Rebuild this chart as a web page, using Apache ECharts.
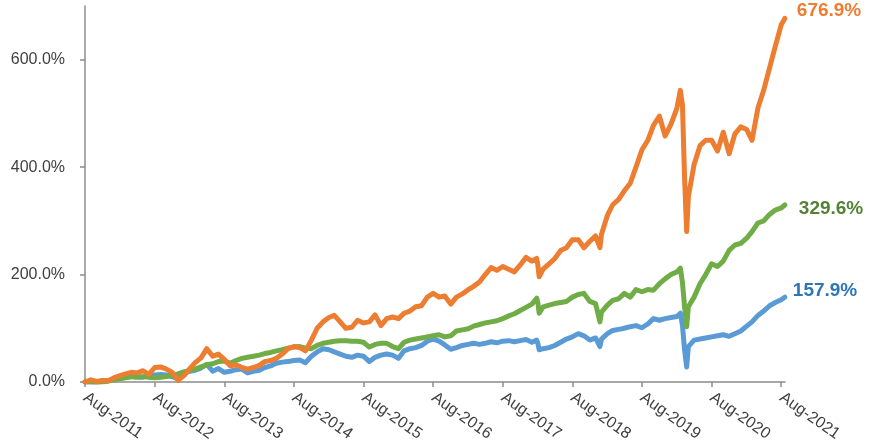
<!DOCTYPE html>
<html>
<head>
<meta charset="utf-8">
<script src="https://cdn.jsdelivr.net/npm/echarts@6/dist/echarts.min.js"></script>
<style>html,body{margin:0;padding:0;background:#fff;}#c{width:875px;height:447px;}</style>
</head>
<body>
<div id="c"></div>
<script>
var dates = [
 '2011-08-01','2011-09-01','2011-10-01','2011-11-01','2011-12-01','2012-01-01','2012-02-01','2012-03-01','2012-04-01','2012-05-01','2012-06-01','2012-07-01',
 '2012-08-01','2012-09-01','2012-10-01','2012-11-01','2012-12-01','2013-01-01','2013-02-01','2013-03-01','2013-04-01','2013-05-01','2013-06-01','2013-07-01',
 '2013-08-01','2013-09-01','2013-10-01','2013-11-01','2013-12-01','2014-01-01','2014-02-01','2014-03-01','2014-04-01','2014-05-01','2014-06-01','2014-07-01',
 '2014-08-01','2014-09-01','2014-10-01','2014-11-01','2014-12-01','2015-01-01','2015-02-01','2015-03-01','2015-04-01','2015-05-01','2015-06-01','2015-07-01',
 '2015-08-01','2015-09-01','2015-10-01','2015-11-01','2015-12-01','2016-01-01','2016-02-01','2016-03-01','2016-04-01','2016-05-01','2016-06-01','2016-07-01',
 '2016-08-01','2016-09-01','2016-10-01','2016-11-01','2016-12-01','2017-01-01','2017-02-01','2017-03-01','2017-04-01','2017-05-01','2017-06-01','2017-07-01',
 '2017-08-01','2017-09-01','2017-10-01','2017-11-01','2017-12-01','2018-01-01','2018-01-26','2018-02-01','2018-02-08','2018-03-01','2018-04-01','2018-05-01','2018-06-01','2018-07-01',
 '2018-08-01','2018-09-01','2018-10-01','2018-11-01','2018-12-01','2018-12-24','2019-01-01','2019-02-01','2019-03-01','2019-04-01','2019-05-01','2019-06-01','2019-07-01',
 '2019-08-01','2019-09-01','2019-10-01','2019-11-01','2019-12-01','2020-01-01','2020-02-01','2020-02-19','2020-03-01','2020-03-12','2020-03-23','2020-04-01','2020-05-01','2020-06-01','2020-07-01',
 '2020-08-01','2020-09-01','2020-10-01','2020-11-01','2020-12-01','2021-01-01','2021-02-01','2021-03-01','2021-04-01','2021-05-01','2021-06-01','2021-07-01','2021-08-01','2021-08-20'
];
var orangeValues = [
 0,4,1,3,2,8,12,15,18,17,21,14,
 27,28,24,18,3,12,25,36,45,62,48,52,
 42,30,32,27,24,27,31,38,40,44,52,62,
 66,64,58,78,100,112,120,124,112,100,102,115,
 110,112,125,105,118,121,118,128,132,140,142,158,
 165,158,160,145,158,164,172,178,186,200,213,208,
 215,210,205,218,232,225,230,218,196,210,220,230,245,250,
 265,265,250,262,272,250,275,310,330,340,356,370,400,
 432,450,478,495,458,480,510,543,515,380,280,345,405,440,450,
 450,430,465,425,462,475,470,450,510,543,585,625,665,676.9
];
var greenValues = [
 0,0,-1,0,2,4,6,8,10,10,10,9,
 8,9,10,12,15,19,21,24,28,32,34,38,
 39,35,40,44,46,48,50,53,55,58,60,63,
 65,66,63,62,68,72,74,76,77,77,76,76,
 74,65,70,72,72,66,62,74,78,80,82,84,
 86,88,84,86,95,97,99,104,107,110,112,114,
 118,123,127,133,139,145,156,148,128,140,143,146,148,150,
 158,163,165,150,146,112,130,143,152,155,165,158,172,
 168,172,171,183,192,200,205,212,185,140,103,140,158,183,200,
 220,215,225,245,255,258,268,280,296,300,312,320,324,329.6
];
var blueValues = [
 0,0,0,2,3,5,8,9,10,9,9,12,
 13,14,13,10,6,16,20,22,26,33,20,25,
 18,20,23,24,17,20,22,27,30,35,37,38,
 40,41,36,48,56,62,60,56,52,48,46,50,
 48,38,46,50,52,50,44,58,62,64,68,76,
 80,76,69,61,64,68,70,72,70,72,75,73,
 76,77,75,77,79,74,78,72,60,62,64,68,74,80,
 84,90,86,78,82,66,80,90,96,98,100,103,105,
 101,108,118,115,118,120,122,128,105,60,28,66,78,80,82,
 84,86,88,85,90,95,104,112,124,132,142,148,153,157.9
];
var yTicks = [0, 200, 400, 600];
var xTickYears = [2011,2012,2013,2014,2015,2016,2017,2018,2019,2020,2021];

function ts(s){ var p = s.split('-'); return Date.UTC(+p[0], +p[1]-1, +p[2]); }
var xTicks = xTickYears.map(function(y){ return Date.UTC(y, 7, 1); });
function pairs(vals){ return dates.map(function(d,i){ return [ts(d), vals[i]]; }); }

var chart = echarts.init(document.getElementById('c'), null, {renderer:'canvas'});
var axisGray = '#8c8c8c';
var font = 'Arial, "Liberation Sans", sans-serif';
function mk(name, vals, color, labelColor, offset){
  return {
    name: name, type: 'line', data: pairs(vals), showSymbol: false, smooth: false,
    lineStyle: {width: 5, color: color, join: 'round', cap: 'round'}, itemStyle: {color: color},
    emphasis: {disabled: true},
    endLabel: {
      show: true, color: labelColor, fontWeight: 'bold', fontSize: 19, fontFamily: font,
      offset: offset,
      formatter: function(p){ return p.value[1].toFixed(1) + '%'; }
    }
  };
}
chart.setOption({
  animation: false,
  backgroundColor: '#fff',
  grid: {left: 85, right: 90, top: 6, bottom: 65, containLabel: false},
  xAxis: {
    type: 'value',
    min: ts('2011-08-01'),
    max: ts('2021-08-21'),
    axisLine: {show: true, lineStyle: {color: axisGray, width: 1.5}},
    axisTick: {show: true, length: 5, lineStyle: {color: axisGray, width: 1.5}, customValues: xTicks},
    axisLabel: {
      customValues: xTicks, rotate: -35, margin: 14, fontSize: 16, color: '#404040', fontFamily: font,
      formatter: function(v){ return 'Aug-' + new Date(v).getUTCFullYear(); }
    },
    splitLine: {show: false}
  },
  yAxis: {
    type: 'value', min: 0, max: 700,
    axisLine: {show: true, lineStyle: {color: axisGray, width: 1.5}},
    axisTick: {show: true, length: 5, lineStyle: {color: axisGray, width: 1.5}, customValues: yTicks},
    axisLabel: {customValues: yTicks, margin: 20, fontSize: 16, color: '#404040', fontFamily: font,
      formatter: function(v){ return v.toFixed(1) + '%'; }},
    splitLine: {show: false}
  },
  series: [
    mk('Blue', blueValues, '#5B9BD5', '#2E75B6', [0, -6]),
    mk('Green', greenValues, '#70AD47', '#548235', [6, 4]),
    mk('Orange', orangeValues, '#ED7D31', '#ED7D31', [4, -8])
  ]
});
</script>
</body>
</html>
